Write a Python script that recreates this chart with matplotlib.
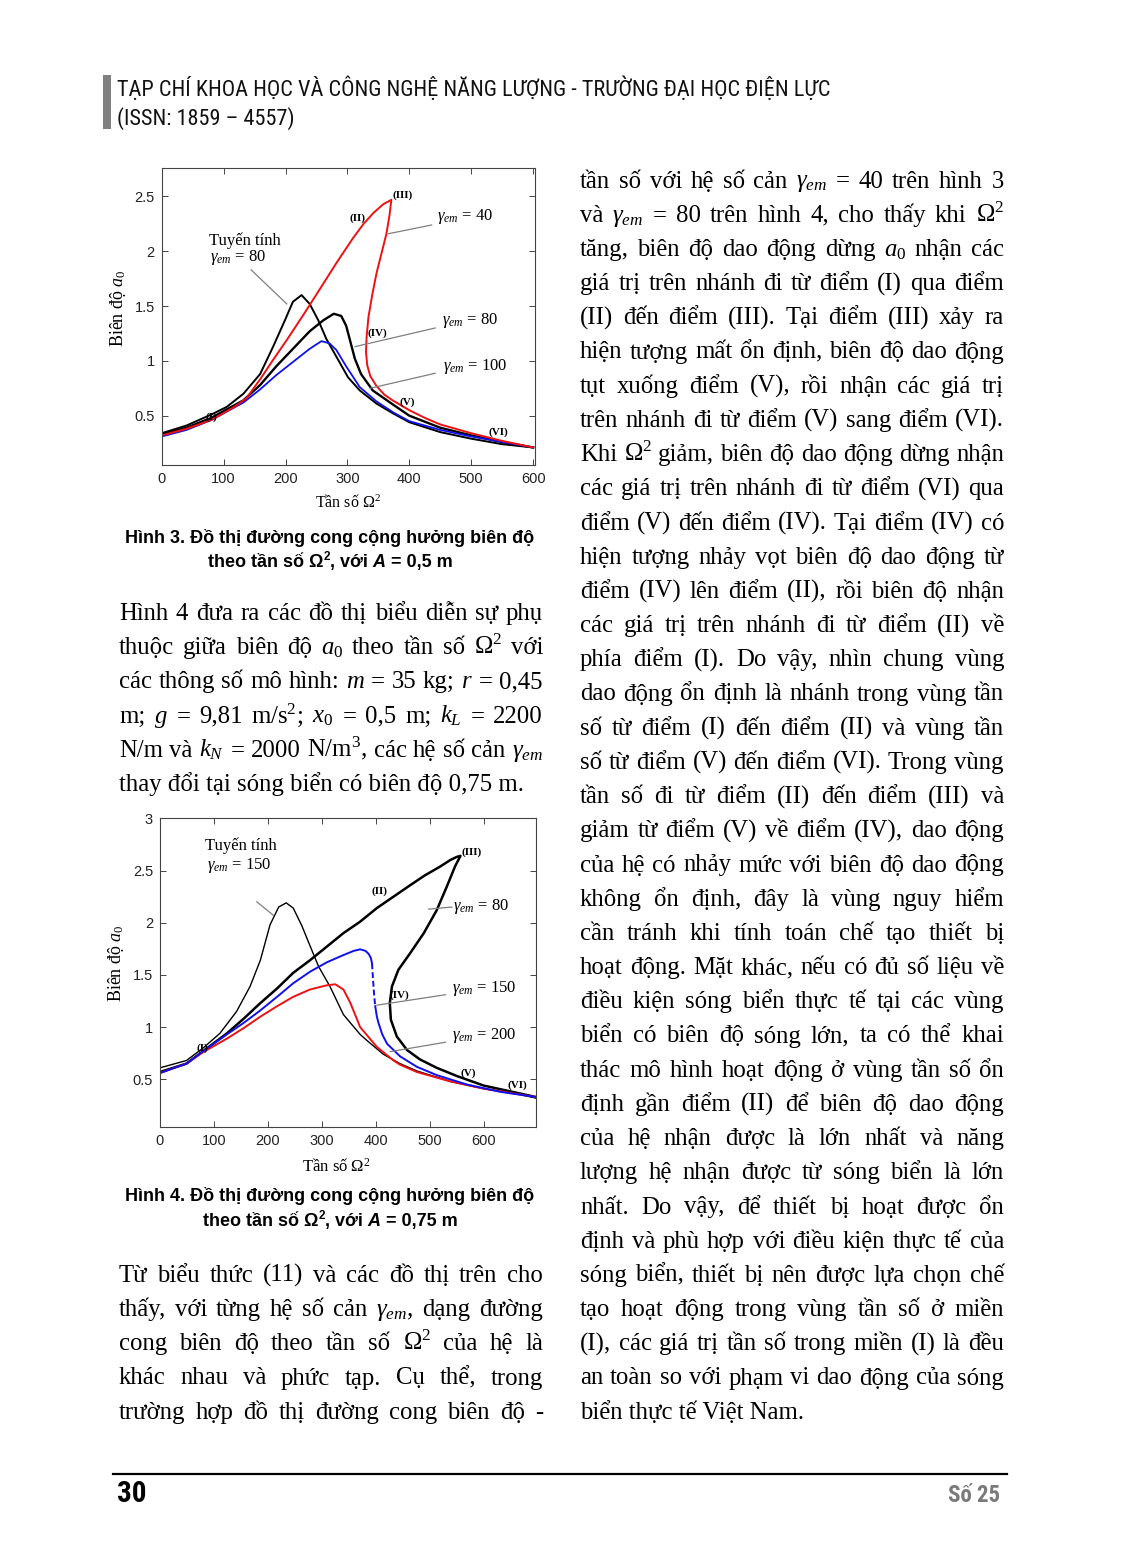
import matplotlib
matplotlib.use("Agg")
import matplotlib.pyplot as plt

plt.rcParams["font.family"] = "Liberation Sans"
plt.rcParams["mathtext.fontset"] = "custom"
plt.rcParams["mathtext.rm"] = "Liberation Serif"
plt.rcParams["mathtext.it"] = "Liberation Serif:italic"
plt.rcParams["mathtext.bf"] = "Liberation Serif:bold"

# ---------------------------------------------------------------- data
# Hình 3 (A = 0,5 m)
h3_lin_x = [0, 40, 80, 105, 132, 159, 180, 199, 212, 226, 239, 253, 266, 282, 301, 320, 347, 374, 400, 450, 500, 550, 600]
h3_lin_y = [0.34, 0.41, 0.51, 0.58, 0.70, 0.88, 1.13, 1.37, 1.54, 1.60, 1.52, 1.37, 1.20, 1.04, 0.85, 0.73, 0.61, 0.52, 0.44, 0.35, 0.29, 0.24, 0.21]

h3_g80_x = [0, 40, 80, 132, 159, 185, 212, 239, 261, 278, 290, 298, 305, 312, 322, 341, 374, 400, 450, 500, 550, 600]
h3_g80_y = [0.33, 0.39, 0.48, 0.64, 0.78, 0.95, 1.11, 1.27, 1.37, 1.43, 1.41, 1.32, 1.17, 1.02, 0.88, 0.73, 0.60, 0.50, 0.39, 0.32, 0.26, 0.21]

h3_g100_x = [0, 40, 80, 132, 159, 185, 212, 239, 258, 271, 282, 298, 320, 347, 374, 400, 450, 500, 550, 600]
h3_g100_y = [0.31, 0.37, 0.46, 0.62, 0.74, 0.87, 0.99, 1.11, 1.18, 1.16, 1.10, 0.95, 0.76, 0.63, 0.53, 0.45, 0.37, 0.31, 0.26, 0.21]

h3_g40_x = [0, 40, 80, 105, 120, 137, 160, 180, 202, 230, 256, 283, 309, 326, 342, 358, 371,
            368, 363, 355, 347, 340, 334, 331, 330, 332, 337, 347, 360, 373, 400, 425, 450, 500, 550, 600]
h3_g40_y = [0.32, 0.38, 0.46, 0.54, 0.59, 0.66, 0.84, 1.01, 1.19, 1.43, 1.66, 1.90, 2.12, 2.25, 2.35, 2.43, 2.47,
            2.33, 2.16, 1.98, 1.80, 1.60, 1.40, 1.22, 1.08, 0.96, 0.86, 0.77, 0.69, 0.64, 0.55, 0.48, 0.42, 0.34, 0.27, 0.21]

# Hình 4 (A = 0,75 m)
h4_lin_x = [0, 49, 80, 111, 142, 167, 186, 204, 220, 234, 247, 263, 278, 294, 315, 340, 353, 371, 384, 414, 445, 476, 507, 538, 600, 662, 697]
h4_lin_y = [0.61, 0.68, 0.80, 0.94, 1.15, 1.39, 1.64, 1.98, 2.15, 2.19, 2.14, 1.97, 1.78, 1.58, 1.39, 1.12, 1.04, 0.93, 0.87, 0.74, 0.65, 0.58, 0.53, 0.48, 0.41, 0.36, 0.32]

h4_g80_x = [0, 49, 80, 124, 155, 186, 217, 247, 278, 309, 340, 371, 402, 433, 464, 490, 520, 538, 550, 557,
            547, 532, 513, 489, 464, 442, 430, 426, 428, 439, 458, 482, 513, 551, 600, 662, 697]
h4_g80_y = [0.57, 0.65, 0.77, 0.94, 1.08, 1.23, 1.37, 1.52, 1.64, 1.77, 1.90, 2.01, 2.14, 2.25, 2.36, 2.45, 2.54, 2.60, 2.63, 2.64,
            2.54, 2.35, 2.12, 1.90, 1.71, 1.55, 1.39, 1.23, 1.07, 0.91, 0.78, 0.69, 0.61, 0.53, 0.44, 0.37, 0.33]

h4_g150_x = [0, 49, 80, 124, 155, 186, 217, 247, 278, 309, 340, 359, 371, 381, 387, 391, 393]
h4_g150_y = [0.56, 0.65, 0.77, 0.93, 1.04, 1.16, 1.29, 1.42, 1.53, 1.62, 1.69, 1.73, 1.745, 1.73, 1.70, 1.66, 1.61]
h4_g150_jump_x = [393, 395, 397, 399]
h4_g150_jump_y = [1.61, 1.45, 1.30, 1.20]
h4_g150_tail_x = [399, 402, 405, 412, 421, 445, 476, 513, 569, 631, 697]
h4_g150_tail_y = [1.20, 1.10, 1.04, 0.93, 0.84, 0.72, 0.62, 0.54, 0.45, 0.38, 0.33]

h4_g200_x = [0, 49, 80, 124, 155, 186, 217, 247, 278, 309, 325, 340, 353, 371, 402, 433, 445, 476, 538, 600, 697]
h4_g200_y = [0.56, 0.65, 0.76, 0.89, 0.99, 1.10, 1.20, 1.29, 1.36, 1.40, 1.41, 1.36, 1.23, 1.00, 0.81, 0.68, 0.64, 0.57, 0.48, 0.41, 0.33]

x_ticks = [0, 100, 200, 300, 400, 500, 600]
h3_y_ticks = [0.5, 1, 1.5, 2, 2.5]
h4_y_ticks = [0.5, 1, 1.5, 2, 2.5, 3]

# ---------------------------------------------------------------- text
header_1 = "TẠP CHÍ KHOA HỌC VÀ CÔNG NGHỆ NĂNG LƯỢNG - TRƯỜNG ĐẠI HỌC ĐIỆN LỰC"
header_2 = "(ISSN: 1859 – 4557)"

caption_3 = "Hình 3. Đồ thị đường cong cộng hưởng biên độ"
caption_4 = "Hình 4. Đồ thị đường cong cộng hưởng biên độ"

left_par_1 = [
    "Hình 4 đưa ra các đồ thị biểu diễn sự phụ",
    r"thuộc giữa biên độ $a_0$ theo tần số Ω$^2$ với",
    r"các thông số mô hình: $m$ = 35 kg; $r$ = 0,45",
    r"m; $g$ = 9,81 m/s$^2$; $x_0$ = 0,5 m; $k_L$ = 2200",
    r"N/m và $k_N$ = 2000 N/m$^3$, các hệ số cản $\gamma_{em}$",
    "thay đổi tại sóng biển có biên độ 0,75 m.",
]

left_par_2 = [
    "Từ biểu thức (11) và các đồ thị trên cho",
    r"thấy, với từng hệ số cản $\gamma_{em}$, dạng đường",
    r"cong biên độ theo tần số Ω$^2$ của hệ là",
    "khác nhau và phức tạp. Cụ thể, trong",
    "trường hợp đồ thị đường cong biên độ -",
]

right_par = [
    r"tần số với hệ số cản $\gamma_{em}$ = 40 trên hình 3",
    r"và $\gamma_{em}$ = 80 trên hình 4, cho thấy khi Ω$^2$",
    r"tăng, biên độ dao động dừng $a_0$ nhận các",
    "giá trị trên nhánh đi từ điểm (I) qua điểm",
    "(II) đến điểm (III). Tại điểm (III) xảy ra",
    "hiện tượng mất ổn định, biên độ dao động",
    "tụt xuống điểm (V), rồi nhận các giá trị",
    "trên nhánh đi từ điểm (V) sang điểm (VI).",
    "Khi Ω$^2$ giảm, biên độ dao động dừng nhận",
    "các giá trị trên nhánh đi từ điểm (VI) qua",
    "điểm (V) đến điểm (IV). Tại điểm (IV) có",
    "hiện tượng nhảy vọt biên độ dao động từ",
    "điểm (IV) lên điểm (II), rồi biên độ nhận",
    "các giá trị trên nhánh đi từ điểm (II) về",
    "phía điểm (I). Do vậy, nhìn chung vùng",
    "dao động ổn định là nhánh trong vùng tần",
    "số từ điểm (I) đến điểm (II) và vùng tần",
    "số từ điểm (V) đến điểm (VI). Trong vùng",
    "tần số đi từ điểm (II) đến điểm (III) và",
    "giảm từ điểm (V) về điểm (IV), dao động",
    "của hệ có nhảy mức với biên độ dao động",
    "không ổn định, đây là vùng nguy hiểm",
    "cần tránh khi tính toán chế tạo thiết bị",
    "hoạt động. Mặt khác, nếu có đủ số liệu về",
    "điều kiện sóng biển thực tế tại các vùng",
    "biển có biên độ sóng lớn, ta có thể khai",
    "thác mô hình hoạt động ở vùng tần số ổn",
    "định gần điểm (II) để biên độ dao động",
    "của hệ nhận được là lớn nhất và năng",
    "lượng hệ nhận được từ sóng biển là lớn",
    "nhất. Do vậy, để thiết bị hoạt được ổn",
    "định và phù hợp với điều kiện thực tế của",
    "sóng biển, thiết bị nên được lựa chọn chế",
    "tạo hoạt động trong vùng tần số ở miền",
    "(I), các giá trị tần số trong miền (I) là đều",
    "an toàn so với phạm vi dao động của sóng",
    "biển thực tế Việt Nam.",
]

# ---------------------------------------------------------------- page
W, H = 1122, 1565
SERIF = "Liberation Serif"
NARROW = ["Roboto Condensed", "Liberation Sans"]
BODY = 17.8

fig = plt.figure(figsize=(W / 100, H / 100), dpi=100)
fig.patch.set_facecolor("white")
renderer = fig.canvas.get_renderer()


def put(x, y, s, **kw):
    kw.setdefault("va", "baseline")
    return fig.text(x / W, 1 - y / H, s, **kw)


def width(s, **kw):
    t = put(0, 0, s, **kw)
    w = t.get_window_extent(renderer).width
    t.remove()
    return w


def justified(lines, x0, x1, y0, step, last_free=True):
    for i, line in enumerate(lines):
        y = y0 + i * step
        if last_free and i == len(lines) - 1:
            put(x0, y, line, family=SERIF, size=BODY)
            continue
        words = line.split(" ")
        ws = [width(w, family=SERIF, size=BODY) for w in words]
        gap = (x1 - x0 - sum(ws)) / (len(words) - 1)
        x = x0
        for word, ww in zip(words, ws):
            put(x, y, word, family=SERIF, size=BODY)
            x += ww + gap


def runs_centered(runs, xc, y):
    # runs: (text, style kwargs, raise in px)
    ws = [width(t, **kw) for t, kw, _ in runs]
    x = xc - sum(ws) / 2
    for (t, kw, dy), w in zip(runs, ws):
        put(x, y - dy, t, **kw)
        x += w


def caption(line1, value, y1, y2, xc=330):
    bold = dict(family="Liberation Sans", weight="bold", size=13)
    put(xc, y1, line1, ha="center", **bold)
    runs_centered([
        ("theo tần số Ω", bold, 0),
        ("2", dict(family="Liberation Sans", weight="bold", size=8.5), 7),
        (", với ", bold, 0),
        ("A", dict(family="Liberation Sans", weight="bold", style="italic", size=13), 0),
        (" = " + value, bold, 0),
    ], xc, y2)


# header
fig.add_artist(plt.Rectangle((103 / W, 1 - 129 / H), 8 / W, 54 / H,
                             transform=fig.transFigure, color="#808080", lw=0))
put(117, 96, header_1, family=NARROW, size=16, color="#111111")
put(117, 125, header_2, family=NARROW, size=16, color="#111111")

# footer
fig.add_artist(plt.Line2D([113 / W, 1007 / W], [1 - 1474 / H] * 2,
                          transform=fig.transFigure, color="black", lw=1.6))
put(117, 1502, "30", family=NARROW, weight="bold", size=21, color="black")
put(1000, 1502, "Số 25", family=NARROW, weight="bold", size=16.5, color="#7a7a7a", ha="right")


def style_axes(ax, xlim, ylim, yticks):
    ax.set_xlim(*xlim)
    ax.set_ylim(*ylim)
    ax.set_xticks(x_ticks)
    ax.set_yticks(yticks)
    ax.set_yticklabels([f"{v:g}" for v in yticks])
    ax.tick_params(direction="in", top=True, right=True, length=4, width=0.7,
                   labelsize=10.5, labelcolor="#222222", color="#444444", pad=5)
    for sp in ax.spines.values():
        sp.set_linewidth(0.8)
        sp.set_color("#444444")


def tag(ax, x, y, s):
    ax.text(x, y, s, family=SERIF, weight="bold", size=8, ha="center", va="center")


def note(ax, xt, yt, s, x0, y0, x1, y1):
    ax.text(xt, yt, s, family=SERIF, size=12, ha="left", va="baseline")
    ax.plot([x0, x1], [y0, y1], color="#7f7f7f", lw=0.9)


# ---- Hình 3
ax1 = fig.add_axes([161.7 / W, 1 - 465 / H, (535 - 161.7) / W, (465 - 168) / H])
ax1.plot(h3_lin_x, h3_lin_y, color="black", lw=1.4)
ax1.plot(h3_g80_x, h3_g80_y, color="black", lw=1.7)
ax1.plot(h3_g100_x, h3_g100_y, color="#1010ee", lw=1.3)
ax1.plot(h3_g40_x, h3_g40_y, color="#ee1111", lw=1.4)
style_axes(ax1, (0, 603), (0.05, 2.76), h3_y_ticks)
ax1.set_xlabel("Tần số Ω$^2$", family=SERIF, size=11.5)
ax1.xaxis.set_label_coords(0.5, -0.1)
ax1.set_ylabel("Biên độ $a_0$", family=SERIF, size=13)
ax1.yaxis.set_label_coords(-0.09, 0.53)
ax1.text(77, 2.06, "Tuyến tính", family=SERIF, size=12, ha="left", va="baseline")
ax1.text(78, 1.91, r"$\gamma_{em}$ = 80", family=SERIF, size=12, ha="left", va="baseline")
ax1.plot([144.6, 202], [1.83, 1.52], color="#7f7f7f", lw=0.9)
note(ax1, 444, 2.29, r"$\gamma_{em}$ = 40", 436, 2.24, 366, 2.16)
note(ax1, 452, 1.34, r"$\gamma_{em}$ = 80", 441.7, 1.30, 312.4, 1.13)
note(ax1, 455, 0.92, r"$\gamma_{em}$ = 100", 441.7, 0.887, 336.6, 0.75)
tag(ax1, 389, 2.51, "(III)")
tag(ax1, 316, 2.30, "(II)")
tag(ax1, 348.5, 1.25, "(IV)")
tag(ax1, 397, 0.62, "(V)")
tag(ax1, 544, 0.35, "(VI)")
tag(ax1, 80.8, 0.49, "(I)")

# ---- Hình 4
ax2 = fig.add_axes([160 / W, 1 - 1126.7 / H, (536 - 160) / W, (1126.7 - 818.3) / H])
ax2.plot(h4_lin_x, h4_lin_y, color="black", lw=1.0)
ax2.plot(h4_g80_x, h4_g80_y, color="black", lw=1.8)
ax2.plot(h4_g200_x, h4_g200_y, color="#ee1111", lw=1.4)
ax2.plot(h4_g150_x, h4_g150_y, color="#1010ee", lw=1.4)
ax2.plot(h4_g150_jump_x, h4_g150_jump_y, color="#1010ee", lw=1.4, ls=(0, (3, 1.5)))
ax2.plot(h4_g150_tail_x, h4_g150_tail_y, color="#1010ee", lw=1.4)
style_axes(ax2, (0, 697), (0.046, 3.0), h4_y_ticks)
ax2.set_xlabel("Tần số Ω$^2$", family=SERIF, size=12)
ax2.xaxis.set_label_coords(0.47, -0.1)
ax2.set_ylabel("Biên độ $a_0$", family=SERIF, size=13)
ax2.yaxis.set_label_coords(-0.09, 0.53)
ax2.text(83.5, 2.70, "Tuyến tính", family=SERIF, size=12, ha="left", va="baseline")
ax2.text(86.6, 2.51, r"$\gamma_{em}$ = 150", family=SERIF, size=12, ha="left", va="baseline")
ax2.plot([179.5, 210.4], [2.20, 2.07], color="#7f7f7f", lw=0.9)
note(ax2, 544, 2.12, r"$\gamma_{em}$ = 80", 541, 2.15, 498, 2.13)
note(ax2, 541, 1.34, r"$\gamma_{em}$ = 150", 529, 1.31, 402, 1.21)
note(ax2, 541, 0.89, r"$\gamma_{em}$ = 200", 529, 0.855, 427, 0.765)
tag(ax2, 578, 2.68, "(III)")
tag(ax2, 407, 2.30, "(II)")
tag(ax2, 444, 1.31, "(IV)")
tag(ax2, 572, 0.56, "(V)")
tag(ax2, 663, 0.44, "(VI)")
tag(ax2, 79, 0.80, "(I)")

# captions and body
caption(caption_3, "0,5 m", 543, 567)
caption(caption_4, "0,75 m", 1201, 1226)

STEP = 34.2
justified(left_par_1, 119, 543, 620, STEP, last_free=True)
justified(left_par_2, 119, 543, 187.5 + 32 * STEP, STEP, last_free=False)
justified(right_par, 580, 1004, 187.5, STEP, last_free=True)

fig.savefig("out.png", dpi=100)
